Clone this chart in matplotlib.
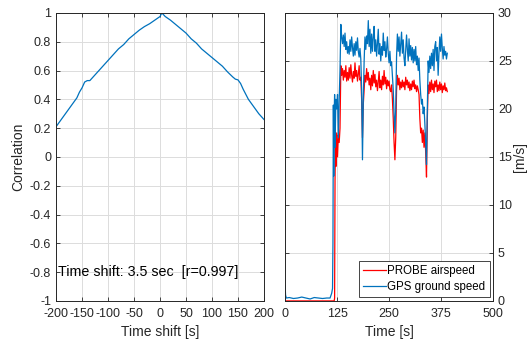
import numpy as np
import matplotlib
matplotlib.use('Agg')
import matplotlib.pyplot as plt

# ---- data: cross-correlation vs. time shift ----
lag_s = [-200, -190, -180, -170, -160, -155, -150, -145, -140, -135, -130,
         -120, -110, -100, -90, -80, -70, -60, -50, -40, -30, -20, -10, 0,
         3.5, 10, 20, 30, 40, 50, 60, 70, 80, 90, 100, 110, 120, 130, 140,
         145, 150, 155, 160, 170, 180, 190, 200]
corr = [0.21, 0.26, 0.31, 0.36, 0.41, 0.45, 0.48, 0.52, 0.53, 0.53, 0.55,
        0.59, 0.63, 0.67, 0.71, 0.75, 0.78, 0.82, 0.85, 0.88, 0.905, 0.925, 0.95, 0.975,
        1.0, 0.975, 0.95, 0.92, 0.89, 0.86, 0.82, 0.79, 0.75, 0.72, 0.69, 0.66, 0.63, 0.59, 0.555,
        0.54, 0.535, 0.51, 0.47, 0.40, 0.35, 0.30, 0.26]
shift_text = 'Time shift: 3.5 sec  [r=0.997]'

# ---- data: speeds vs. time ----
t_gps_start = [0, 1, 3, 10, 20, 30, 40, 50, 60, 70, 80, 90, 100, 108, 112, 114,
               115, 116, 117, 118, 119, 120, 122, 124, 126, 128, 130, 132]
gps_start = [1.6, 0.6, 0.3, 0.35, 0.25, 0.3, 0.4, 0.3, 0.2, 0.35, 0.3, 0.25, 0.3, 0.3, 0.8, 1.3,
             6.0, 20.4, 13.0, 19.5, 21.5, 16.0, 21.0, 20.0, 21.5, 17.0, 21.0, 24.0]
t_probe_start = [0, 118, 119, 120, 121, 122, 124, 126, 128, 130, 132]
probe_start = [0, 0, 0.3, 12.6, 16.5, 14.0, 17.5, 15.0, 17.3, 16.5, 18.0]

t_flight = np.arange(134, 391, 2)
gps_flight = [
    28.8, 27.5, 26.8, 27.7, 26.5, 27.9, 26.2, 27.0, 25.8, 26.5,
    25.7, 27.2, 26.0, 27.5, 26.4, 25.5, 26.8, 25.6, 27.0, 26.1,
    27.4, 26.0, 25.4, 26.3, 25.2, 22.0, 14.7, 21.0, 25.0, 27.5,
    26.2, 27.6, 26.8, 29.2, 26.5, 28.3, 25.8, 27.8, 26.0, 27.5,
    28.6, 26.0, 27.2, 25.5, 26.8, 28.3, 25.7, 26.8, 25.0, 26.5,
    25.6, 27.9, 26.1, 27.0, 25.4, 26.2, 27.5, 25.8, 24.8, 26.0,
    24.5, 24.9, 23.5, 22.0, 19.5, 17.5, 20.0, 25.5, 27.8, 26.0,
    27.5, 25.5, 26.8, 28.0, 25.8, 27.2, 25.3, 24.5, 26.0, 27.7,
    26.2, 25.0, 27.3, 25.5, 26.6, 25.1, 26.4, 24.8, 26.2, 25.0,
    26.5, 24.6, 25.5, 24.0, 25.3, 23.0, 21.5, 20.5, 21.0, 19.5,
    20.2, 18.5, 16.5, 14.2, 20.0, 25.0, 23.8, 25.5, 24.2, 25.8,
    24.5, 26.2, 24.0, 26.5, 27.0, 25.0, 26.4, 23.5, 25.8, 27.5,
    26.0, 27.8, 26.3, 25.2, 26.5, 25.6, 26.0, 25.2, 25.8]
probe_flight = [
    24.5, 23.5, 24.2, 23.0, 24.0, 23.3, 24.5, 22.9, 23.8, 23.0,
    24.3, 23.2, 24.6, 23.5, 22.8, 23.9, 23.2, 24.8, 23.4, 24.0,
    22.9, 23.6, 24.5, 23.0, 23.3, 21.0, 17.0, 20.5, 22.0, 23.5,
    22.8, 24.2, 23.0, 23.8, 22.5, 23.2, 22.0, 23.5, 22.4, 24.0,
    22.7, 23.6, 22.3, 23.0, 21.9, 22.8, 23.9, 22.2, 23.0, 22.0,
    23.4, 22.5, 24.0, 22.6, 23.3, 22.1, 23.0, 22.4, 22.9, 22.0,
    21.8, 22.5, 21.0, 19.0, 16.5, 14.7, 17.0, 22.0, 23.5, 22.5,
    23.2, 22.0, 22.8, 22.2, 23.0, 22.3, 22.8, 22.0, 23.3, 22.5,
    23.0, 22.2, 22.8, 21.9, 22.6, 22.0, 22.9, 22.3, 23.0, 22.1,
    22.5, 21.8, 22.4, 22.0, 21.5, 19.0, 17.5, 18.0, 16.5, 17.8,
    16.0, 17.5, 15.5, 12.9, 19.0, 22.5, 21.6, 22.8, 21.8, 23.0,
    22.0, 22.6, 21.7, 22.9, 22.3, 23.0, 21.8, 22.5, 21.9, 22.8,
    22.0, 22.6, 21.7, 22.4, 22.0, 22.7, 21.9, 22.2, 21.8]

t_gps = np.concatenate([t_gps_start, t_flight])
gps = np.concatenate([gps_start, gps_flight])
t_probe = np.concatenate([t_probe_start, t_flight])
probe = np.concatenate([probe_start, probe_flight])

# ---- plotting ----
plt.rcParams.update({'font.family': 'Liberation Sans', 'font.size': 9,
                     'axes.unicode_minus': False})
dark = '#262626'
blue = '#0072BD'

fig = plt.figure(figsize=(5.29, 3.40), dpi=100)
ax1 = fig.add_axes([0.106, 0.115, 0.393, 0.847])
ax2 = fig.add_axes([0.539, 0.115, 0.393, 0.847])

for ax in (ax1, ax2):
    ax.grid(True, color='#dcdcdc', lw=0.7)
    ax.set_axisbelow(True)
    ax.tick_params(direction='in', length=3, width=0.6, colors=dark,
                   top=True, right=True, labelsize=9)
    ax.tick_params(axis='x', pad=5)
    for sp in ax.spines.values():
        sp.set_color(dark)
        sp.set_linewidth(0.7)

ax1.plot(lag_s, corr, color=blue, lw=0.9)
ax1.set_xlim(-200, 200)
ax1.set_ylim(-1, 1)
ax1.set_xticks(np.arange(-200, 201, 50))
ax1.set_yticks(np.round(np.arange(-1, 1.01, 0.2), 1))
ax1.set_yticklabels(['-1', '-0.8', '-0.6', '-0.4', '-0.2', '0',
                     '0.2', '0.4', '0.6', '0.8', '1'])
ax1.set_xlabel('Time shift [s]', fontsize=10, color=dark, labelpad=4)
ax1.set_ylabel('Correlation', fontsize=10, color=dark, labelpad=3)
ax1.text(-197, -0.8, shift_text, fontsize=10.3, color='k', va='center', ha='left')

ax2.plot(t_probe, probe, color='#FF0000', lw=0.9, label='PROBE airspeed')
ax2.plot(t_gps, gps, color=blue, lw=0.9, label='GPS ground speed')
ax2.set_xlim(0, 500)
ax2.set_ylim(0, 30)
ax2.set_xticks([0, 125, 250, 375, 500])
ax2.set_yticks(np.arange(0, 31, 5))
ax2.yaxis.tick_right()
ax2.tick_params(left=True, labelleft=False, labelright=True)
ax2.yaxis.set_label_position('right')
ax2.set_xlabel('Time [s]', fontsize=10, color=dark, labelpad=4)
ax2.set_ylabel('[m/s]', fontsize=10, color=dark, labelpad=1)
leg = ax2.legend(loc='lower right', fontsize=8.3, fancybox=False, framealpha=1,
                 edgecolor=dark, handlelength=2.0, handletextpad=0.1,
                 borderpad=0.35, labelspacing=0.35, borderaxespad=0.3)
leg.get_frame().set_linewidth(0.6)

fig.savefig('out.png', dpi=100, facecolor='w')
